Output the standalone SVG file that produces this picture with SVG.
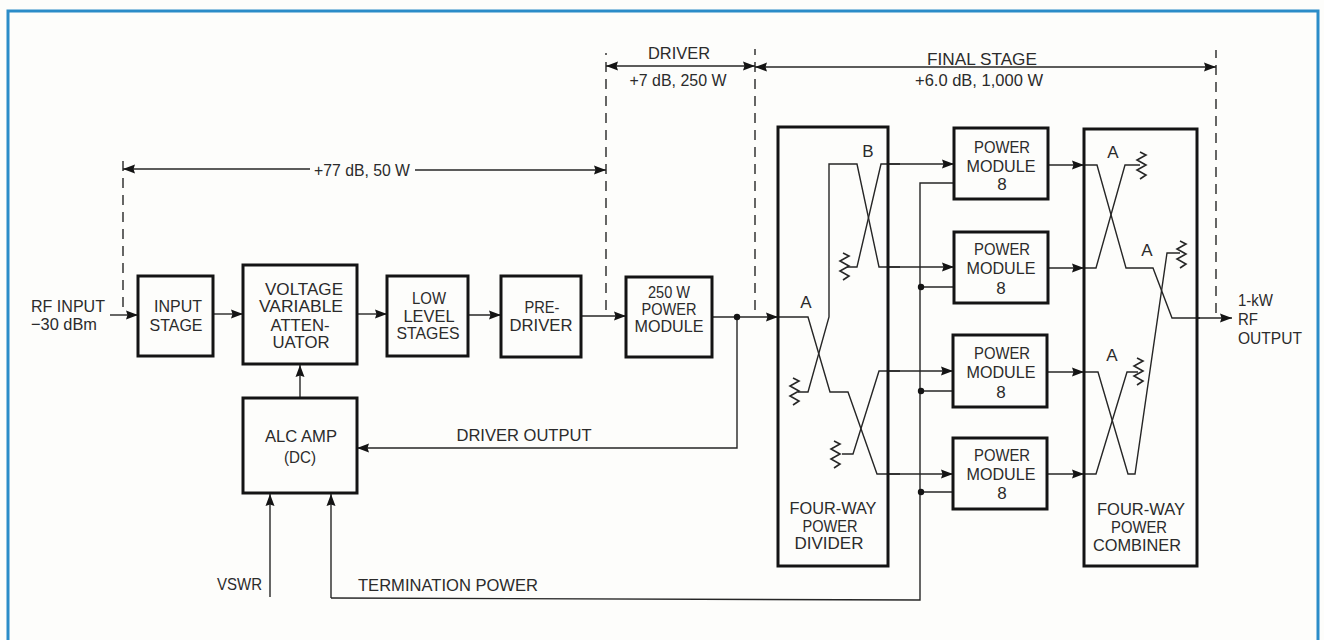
<svg xmlns="http://www.w3.org/2000/svg" width="1324" height="640" viewBox="0 0 1324 640">
<style>
.box{fill:none;stroke:#141414;stroke-width:3}
.ln{fill:none;stroke:#262626;stroke-width:1.4}
.arr{marker-end:url(#ah)}
.dash{fill:none;stroke:#262626;stroke-width:1.4;stroke-dasharray:10 7}
.dot{fill:#141414}
text{font-family:"Liberation Sans",Arial,sans-serif;font-size:17px;fill:#2b2b2b;text-anchor:middle}
.l{text-anchor:start}
</style>
<defs>
<marker id="ah" markerUnits="userSpaceOnUse" markerWidth="12" markerHeight="10" refX="12" refY="5" orient="auto"><path d="M0,0.5 L12,5 L0,9.5 L1.5,5 Z" fill="#141414"/></marker>
<marker id="ahs" markerUnits="userSpaceOnUse" markerWidth="12" markerHeight="10" refX="0" refY="5" orient="auto"><path d="M12,0.5 L0,5 L12,9.5 L10.5,5 Z" fill="#141414"/></marker>
<path id="res" d="M-2,0 L4,3 L-5,8 L4,13 L-5,18 L4,23 L-2,27" fill="none" stroke="#262626" stroke-width="1.6"/>
</defs>
<rect width="1324" height="640" fill="#fdfdfb"/>
<path id="frame" d="M8,640 V11 H1318 V640" fill="none" stroke="#2b8cc8" stroke-width="3"/>

<g id="connectors">
<path class="ln arr" d="M110,315 H138"/>
<path class="ln arr" d="M213,314 H243"/>
<path class="ln arr" d="M357,314 H387"/>
<path class="ln arr" d="M468,315 H501"/>
<path class="ln arr" d="M581,316 H626"/>
<path class="ln arr" d="M712,317 H778"/>
<path class="ln arr" d="M737,317 V448 H357"/>
<path class="ln arr" d="M300,398 V365"/>
<path class="ln arr" d="M270,597 V494"/>
<path class="ln arr" d="M331,598 V494"/>
<path class="ln" d="M331,598 L920,600 V183 H954"/>
<path class="ln" d="M920,287 H954 M920,391 H954 M920,492 H954"/>
<circle class="dot" cx="737" cy="317" r="3.2"/>
<circle class="dot" cx="921" cy="287" r="3.2"/>
<circle class="dot" cx="921" cy="391" r="3.2"/>
<circle class="dot" cx="921" cy="492" r="3.2"/>

<path class="ln" d="M778,317 H808 L830,392 H848 L877,474 H900"/>
<path class="ln" d="M798,392 H808 L829,317 V164 H857 L879,267 H900"/>
<path class="ln" d="M847,267 H857 L881,164 H900"/>
<path class="ln" d="M842,454 H853 L879,371 H900"/>
<path class="ln arr" d="M888,164 H954"/>
<path class="ln arr" d="M888,267 H954"/>
<path class="ln arr" d="M888,371 H953"/>
<path class="ln arr" d="M888,474 H953"/>
<use href="#res" x="845" y="253"/>
<use href="#res" x="795" y="378"/>
<use href="#res" x="836" y="441"/>

<path class="ln arr" d="M1048,165 H1084"/>
<path class="ln arr" d="M1048,268 H1084"/>
<path class="ln arr" d="M1047,372 H1084"/>
<path class="ln arr" d="M1047,474 H1084"/>
<path class="ln" d="M1084,165 H1097 L1126,268 H1153 L1172,318 H1200"/>
<path class="ln" d="M1084,268 H1096 L1125,165 H1140"/>
<path class="ln" d="M1084,372 H1098 L1128,474 H1135 L1167,253 H1180"/>
<path class="ln" d="M1084,474 H1096 L1127,372 H1138"/>
<path class="ln arr" d="M1197,318 H1232"/>
<use href="#res" x="1142" y="152"/>
<use href="#res" x="1182" y="241"/>
<use href="#res" x="1139" y="358"/>

<path class="dash" d="M123,307 V155"/>
<path class="dash" d="M606,310 V53"/>
<path class="dash" d="M755,310 V49"/>
<path class="dash" d="M1216,313 V50"/>
<path class="ln" marker-start="url(#ahs)" d="M123,169 H310"/>
<path class="ln arr" d="M415,170 H606"/>
<path class="ln arr" marker-start="url(#ahs)" d="M606,66 H755"/>
<path class="ln arr" marker-start="url(#ahs)" d="M755,67 H1216"/>
</g>

<g id="input-stage"><rect class="box" x="138" y="276" width="75" height="80"/><text x="178" y="312" textLength="48" lengthAdjust="spacingAndGlyphs">INPUT</text><text x="176" y="331" textLength="53" lengthAdjust="spacingAndGlyphs">STAGE</text></g>
<g id="voltage-variable-attenuator"><rect class="box" x="243" y="265" width="114" height="99"/><text x="304" y="295" textLength="78" lengthAdjust="spacingAndGlyphs">VOLTAGE</text><text x="301" y="312" textLength="84" lengthAdjust="spacingAndGlyphs">VARIABLE</text><text x="300" y="331" textLength="59" lengthAdjust="spacingAndGlyphs">ATTEN-</text><text x="301" y="348" textLength="57" lengthAdjust="spacingAndGlyphs">UATOR</text></g>
<g id="alc-amp"><rect class="box" x="243" y="398" width="114" height="95"/><text x="301" y="442" textLength="72" lengthAdjust="spacingAndGlyphs">ALC AMP</text><text x="300" y="463" textLength="32" lengthAdjust="spacingAndGlyphs">(DC)</text></g>
<g id="low-level-stages"><rect class="box" x="387" y="276" width="81" height="80"/><text x="429" y="304" textLength="34" lengthAdjust="spacingAndGlyphs">LOW</text><text x="429" y="322" textLength="51" lengthAdjust="spacingAndGlyphs">LEVEL</text><text x="428" y="339" textLength="63" lengthAdjust="spacingAndGlyphs">STAGES</text></g>
<g id="pre-driver"><rect class="box" x="501" y="276" width="80" height="81"/><text x="542" y="313" textLength="35" lengthAdjust="spacingAndGlyphs">PRE-</text><text x="541" y="331" textLength="63" lengthAdjust="spacingAndGlyphs">DRIVER</text></g>
<g id="power-module-250"><rect class="box" x="626" y="277" width="86" height="80"/><text x="669" y="298" textLength="42" lengthAdjust="spacingAndGlyphs">250 W</text><text x="669" y="315" textLength="55" lengthAdjust="spacingAndGlyphs">POWER</text><text x="669" y="332" textLength="69" lengthAdjust="spacingAndGlyphs">MODULE</text></g>
<g id="four-way-divider"><rect class="box" x="778" y="127" width="110" height="439"/><text x="833" y="514" textLength="87" lengthAdjust="spacingAndGlyphs">FOUR-WAY</text><text x="830" y="532" textLength="55" lengthAdjust="spacingAndGlyphs">POWER</text><text x="829" y="549" textLength="69" lengthAdjust="spacingAndGlyphs">DIVIDER</text><text x="806" y="308">A</text><text x="868" y="157">B</text></g>
<g id="power-module-1"><rect class="box" x="954" y="128" width="94" height="71"/><text x="1002" y="153" textLength="56" lengthAdjust="spacingAndGlyphs">POWER</text><text x="1001" y="172" textLength="69" lengthAdjust="spacingAndGlyphs">MODULE</text><text x="1002" y="190">8</text></g>
<g id="power-module-2"><rect class="box" x="954" y="232" width="94" height="71"/><text x="1002" y="255" textLength="56" lengthAdjust="spacingAndGlyphs">POWER</text><text x="1001" y="274" textLength="69" lengthAdjust="spacingAndGlyphs">MODULE</text><text x="1001" y="294">8</text></g>
<g id="power-module-3"><rect class="box" x="953" y="335" width="94" height="72"/><text x="1002" y="359" textLength="56" lengthAdjust="spacingAndGlyphs">POWER</text><text x="1001" y="378" textLength="69" lengthAdjust="spacingAndGlyphs">MODULE</text><text x="1001" y="398">8</text></g>
<g id="power-module-4"><rect class="box" x="953" y="438" width="94" height="71"/><text x="1002" y="461" textLength="56" lengthAdjust="spacingAndGlyphs">POWER</text><text x="1001" y="480" textLength="69" lengthAdjust="spacingAndGlyphs">MODULE</text><text x="1002" y="499">8</text></g>
<g id="four-way-combiner"><rect class="box" x="1084" y="129" width="113" height="437"/><text x="1141" y="515" textLength="88" lengthAdjust="spacingAndGlyphs">FOUR-WAY</text><text x="1139" y="533" textLength="56" lengthAdjust="spacingAndGlyphs">POWER</text><text x="1137" y="551" textLength="88" lengthAdjust="spacingAndGlyphs">COMBINER</text><text x="1113" y="158">A</text><text x="1147" y="256">A</text><text x="1112" y="361">A</text></g>

<g id="labels">
<text class="l" x="31" y="312" textLength="74" lengthAdjust="spacingAndGlyphs">RF INPUT</text>
<text class="l" x="31" y="330" textLength="66" lengthAdjust="spacingAndGlyphs">−30 dBm</text>
<text class="l" x="1238" y="306" textLength="35" lengthAdjust="spacingAndGlyphs">1-kW</text>
<text class="l" x="1238" y="325" textLength="20" lengthAdjust="spacingAndGlyphs">RF</text>
<text class="l" x="1238" y="344" textLength="64" lengthAdjust="spacingAndGlyphs">OUTPUT</text>
<text x="362" y="176" textLength="96" lengthAdjust="spacingAndGlyphs">+77 dB, 50 W</text>
<text x="679" y="59" textLength="62" lengthAdjust="spacingAndGlyphs">DRIVER</text>
<text x="678" y="86" textLength="97" lengthAdjust="spacingAndGlyphs">+7 dB, 250 W</text>
<text x="982" y="65" textLength="110" lengthAdjust="spacingAndGlyphs">FINAL STAGE</text>
<text x="979" y="86" textLength="128" lengthAdjust="spacingAndGlyphs">+6.0 dB, 1,000 W</text>
<text x="524" y="441" textLength="135" lengthAdjust="spacingAndGlyphs">DRIVER OUTPUT</text>
<text x="448" y="591" textLength="180" lengthAdjust="spacingAndGlyphs">TERMINATION POWER</text>
<text class="l" x="217" y="590" textLength="45" lengthAdjust="spacingAndGlyphs">VSWR</text>
</g>
</svg>
